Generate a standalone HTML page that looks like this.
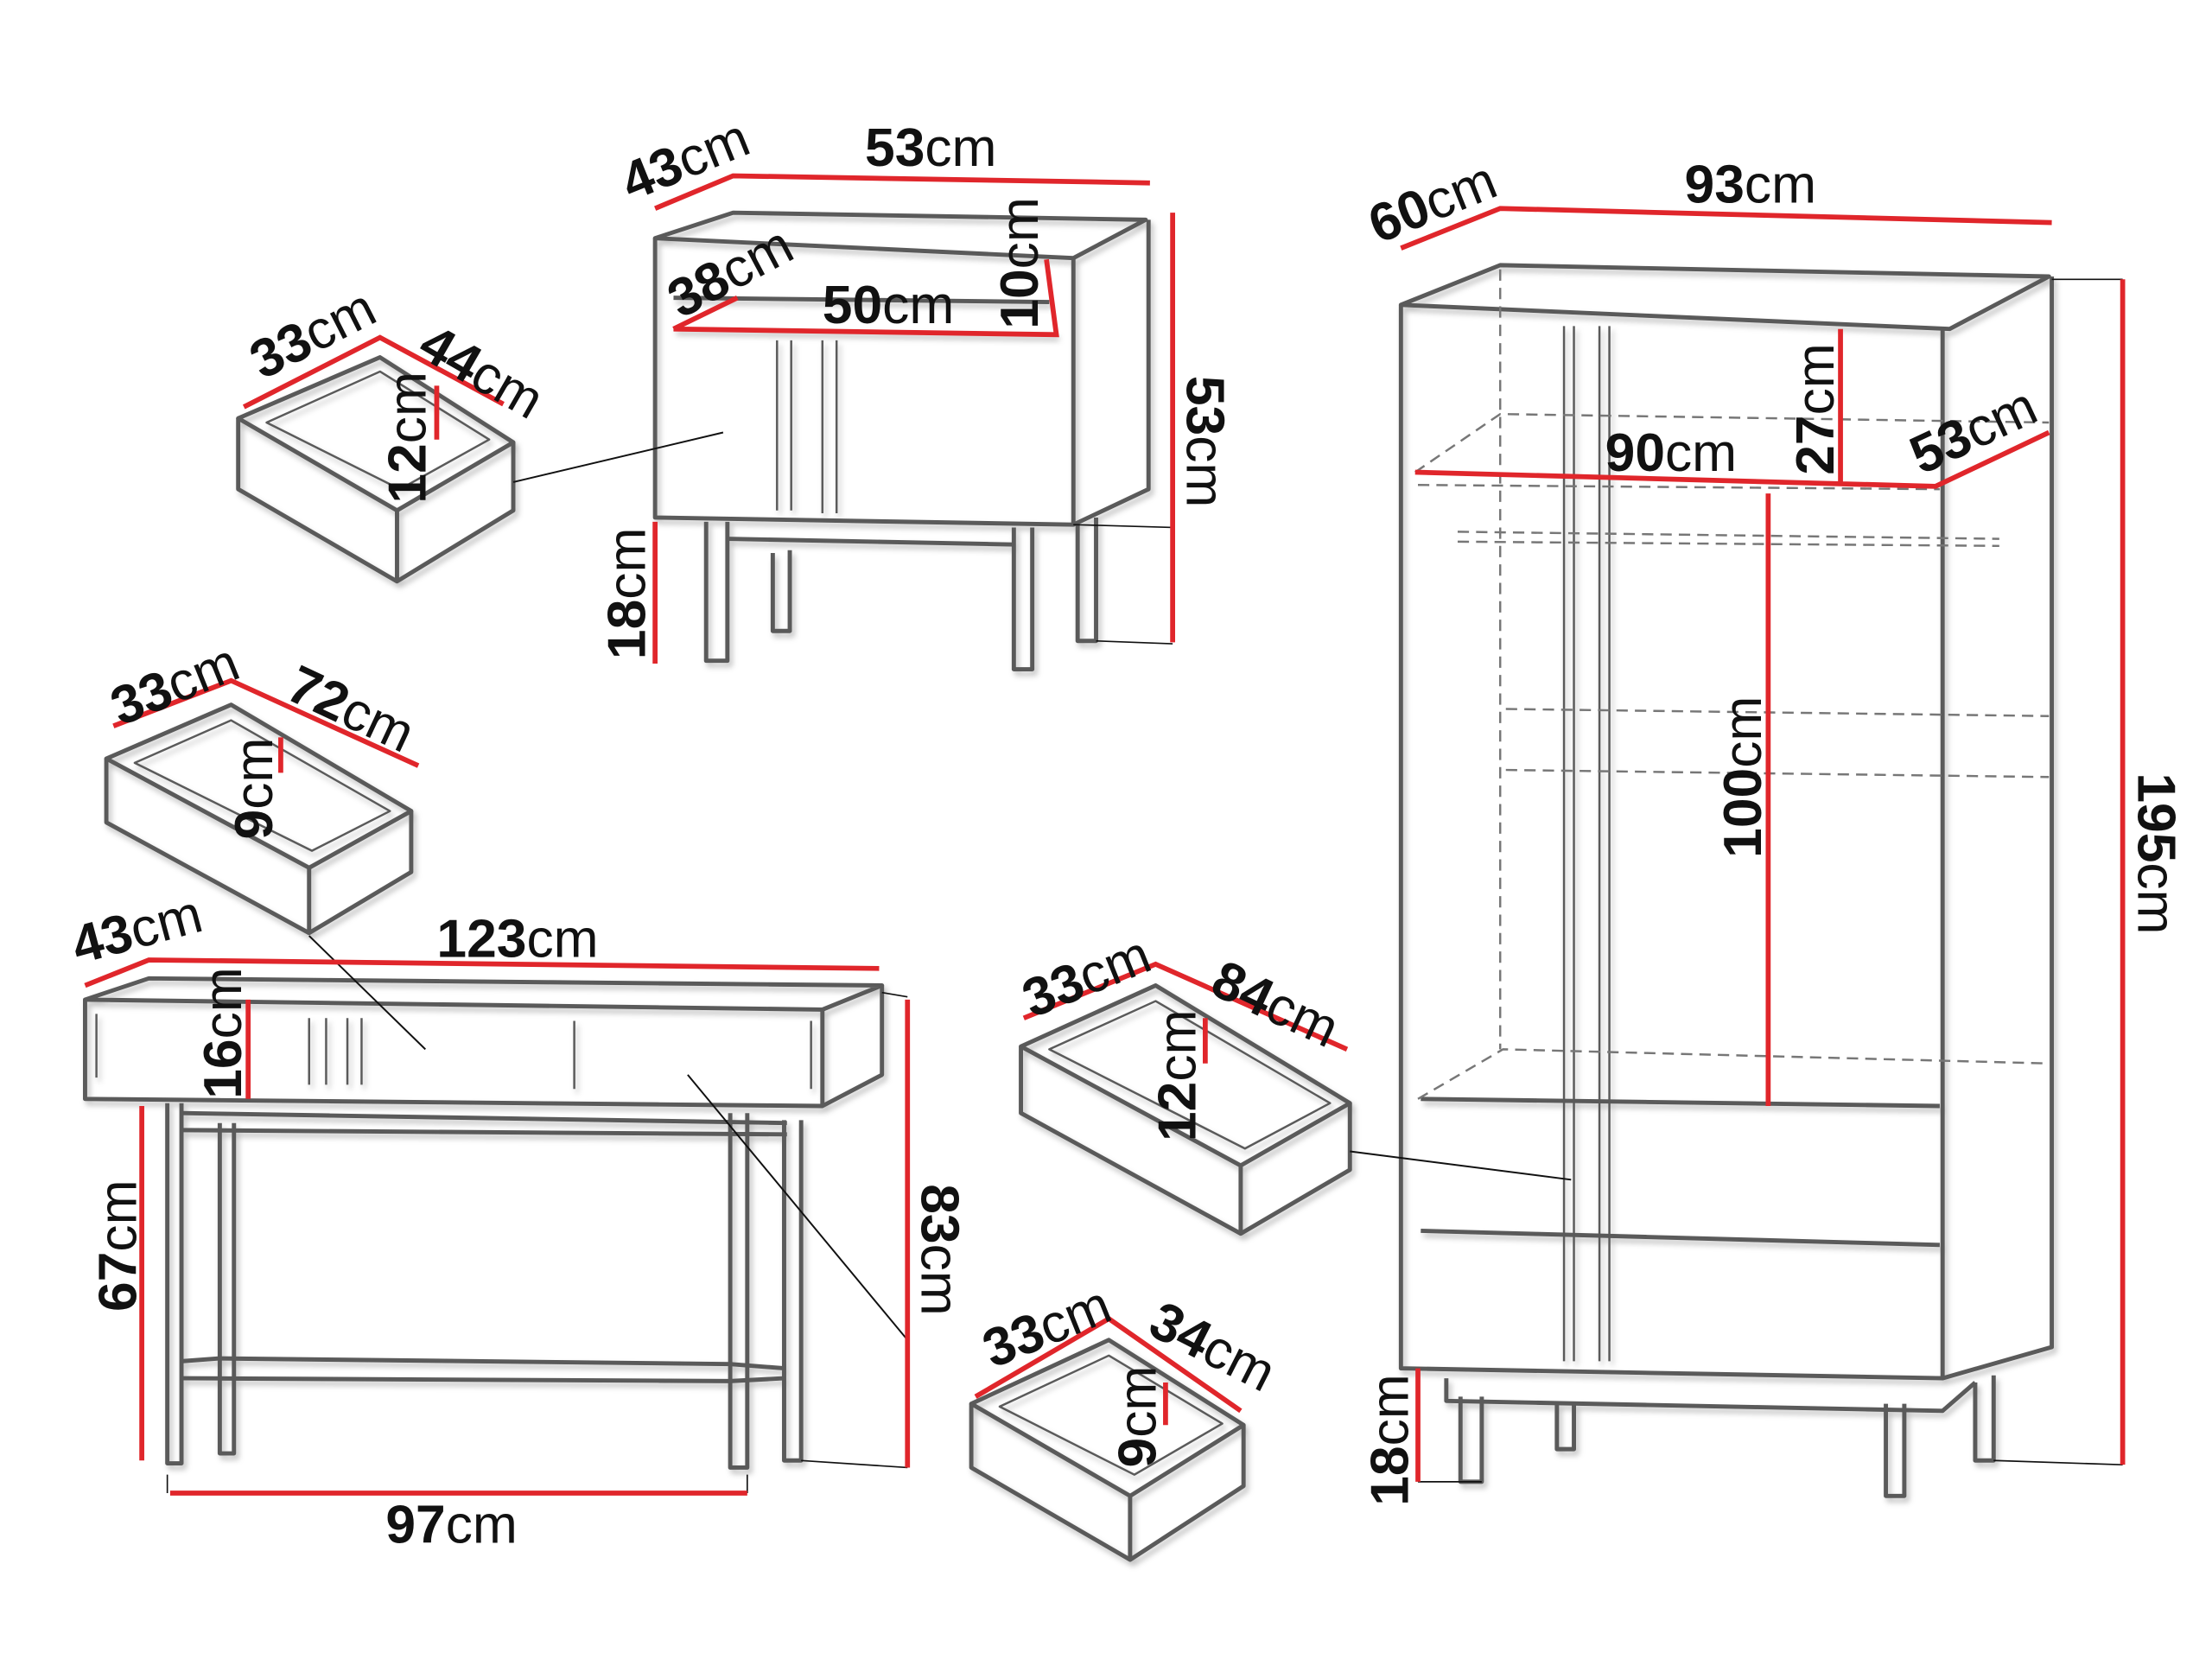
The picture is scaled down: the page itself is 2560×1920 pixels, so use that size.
<!DOCTYPE html>
<html><head><meta charset="utf-8"><style>
html,body{margin:0;padding:0;background:#fff;}
svg{display:block;}
text{font-family:"Liberation Sans",sans-serif;font-size:38px;fill:#111;}
.b{font-weight:bold;}
</style></head><body>
<svg width="2560" height="1920" viewBox="0 0 1560 1170" xmlns="http://www.w3.org/2000/svg">
<defs><filter id="sh" x="-5%" y="-5%" width="110%" height="110%"><feDropShadow dx="2" dy="3" stdDeviation="2" flood-color="#000" flood-opacity="0.25"/></filter></defs>
<g fill="none" stroke="#5a5a5a" stroke-width="3" stroke-linejoin="round" filter="url(#sh)">
<!-- nightstand -->
<path d="M462,168 L517,150 L808,155 L757,182 L462,168 Z"/>
<path d="M462,168 L462,365 L757,370 L757,182"/>
<path d="M757,370 L810,345 L810,155"/>
<path d="M475,232 L745,236 M475,210 L740,213"/>
<path d="M548,240 L548,360 M558,240 L558,360 M580,240 L580,362 M590,240 L590,362" stroke-width="1.5"/>
<path d="M498,368 L498,466 L513,466 L513,368 M715,372 L715,472 L728,472 L728,372 M545,390 L545,445 L557,445 L557,388 M760,370 L760,452 L773,452 L773,365"/>
<path d="M513,380 L715,384"/>
<!-- drawer 1 -->
<path d="M168,295 L280,360 L362,312 L268,252 L168,295 Z"/>
<path d="M168,295 L168,345 L280,410 L280,360 M280,410 L362,360 L362,312"/>
<path d="M188,298 L268,262 L345,310 L282,345 Z" stroke-width="1.5"/>
<!-- drawer 2 -->
<path d="M75,535 L218,612 L290,572 L163,497 L75,535 Z"/>
<path d="M75,535 L75,580 L218,658 L218,612 M218,658 L290,615 L290,572"/>
<path d="M95,538 L163,508 L275,572 L220,600 Z" stroke-width="1.5"/>
<!-- console -->
<path d="M60,705 L105,690 L622,695 L580,712 L60,705 Z"/>
<path d="M60,705 L60,775 L580,780 L580,712 M580,780 L622,758 L622,695"/>
<path d="M68,715 L68,760 M218,718 L218,765 M230,718 L230,765 M245,718 L245,765 M255,718 L255,765 M405,720 L405,768 M572,720 L572,768" stroke-width="1.5"/>
<path d="M128,785 L555,792 M128,797 L555,800"/>
<path d="M118,778 L118,1032 L128,1032 L128,778 M155,792 L155,1025 L165,1025 L165,792 M515,785 L515,1035 L527,1035 L527,785 M553,790 L553,1030 L565,1030 L565,790"/>
<path d="M128,960 L155,958 L515,962 L553,965 M128,972 L515,974 L553,972"/>
<!-- drawer 3 -->
<path d="M720,738 L875,822 L952,778 L815,695 L720,738 Z"/>
<path d="M720,738 L720,785 L875,870 L875,822 M875,870 L952,825 L952,778"/>
<path d="M740,740 L815,706 L938,778 L878,810 Z" stroke-width="1.5"/>
<!-- drawer 4 -->
<path d="M685,990 L797,1055 L877,1005 L782,945 L685,990 Z"/>
<path d="M685,990 L685,1035 L797,1100 L797,1055 M797,1100 L877,1048 L877,1005"/>
<path d="M705,992 L782,956 L862,1004 L800,1040 Z" stroke-width="1.5"/>
<!-- wardrobe -->
<path d="M988,215 L1058,187 L1445,195 L1375,232 L988,215 Z"/>
<path d="M988,215 L988,965 L1370,972 L1370,232 M1370,972 L1447,950 L1447,195"/>
<path d="M1002,775 L1368,780 M1002,868 L1368,878"/>
<path d="M1103,230 L1103,960 M1110,230 L1110,960 M1128,230 L1128,960 M1135,230 L1135,960" stroke-width="1.5"/>
<path d="M1020,972 L1020,988 L1370,995 L1393,975"/>
<path d="M1030,985 L1030,1045 L1045,1045 L1045,985 M1098,990 L1098,1022 L1110,1022 L1110,990 M1330,990 L1330,1055 L1343,1055 L1343,990 M1393,975 L1393,1030 L1406,1030 L1406,970"/>
</g>
<g fill="none" stroke="#777" stroke-width="1.5" stroke-dasharray="8,5">
<path d="M1058,190 L1058,740 M998,333 L1058,292 L1445,298 M1000,342 L1368,345 M1028,375 L1410,380 M1028,382 L1410,385 M1062,500 L1445,505 M1062,543 L1445,548 M1000,775 L1060,740 L1445,750"/>
</g>
<g stroke="#111" stroke-width="1.2">
<path d="M362,340 L510,305 M218,660 L300,740 M485,758 L640,945 M952,812 L1108,832"/>
<path d="M757,370 L827,372 M773,452 L827,454 M622,700 L640,703 M565,1030 L640,1035 M1447,197 L1497,197 M1406,1030 L1497,1033 M1045,1045 L1000,1045 M118,1040 L118,1053 M527,1040 L527,1053" stroke-width="1"/>
</g>
<g stroke="#e0262b" stroke-width="3.5" fill="none">
<path d="M462,147 L517,124 L811,129"/>
<path d="M475,232 L520,210 M475,232 L745,236 L738,183"/>
<path d="M827,150 L827,453 M462,368 L462,468"/>
<path d="M172,287 L268,238 L355,285 M308,272 L308,310"/>
<path d="M80,512 L163,480 L295,540 M198,520 L198,545"/>
<path d="M60,695 L105,677 L620,683 M175,705 L175,775 M100,780 L100,1030 M640,705 L640,1035 M120,1053 L527,1053"/>
<path d="M722,718 L815,680 L950,740 M850,718 L850,750"/>
<path d="M688,985 L782,930 L875,995 M822,975 L822,1005"/>
<path d="M988,175 L1058,147 L1447,157 M998,333 L1365,343 L1445,305 M1298,232 L1298,340 M1247,348 L1247,780 M1497,197 L1497,1033 M1000,965 L1000,1045"/>
</g>
<g>
<text transform="translate(445,142) rotate(-22)"><tspan class="b">43</tspan>cm</text>
<text x="610" y="117"><tspan class="b">53</tspan>cm</text>
<text transform="translate(480,225) rotate(-28)"><tspan class="b">38</tspan>cm</text>
<text x="580" y="228"><tspan class="b">50</tspan>cm</text>
<text transform="translate(732,232) rotate(-90)"><tspan class="b">10</tspan>cm</text>
<text transform="translate(837,265) rotate(90)"><tspan class="b">53</tspan>cm</text>
<text transform="translate(455,465) rotate(-90)"><tspan class="b">18</tspan>cm</text>
<text transform="translate(185,268) rotate(-27)"><tspan class="b">33</tspan>cm</text>
<text transform="translate(293,250) rotate(30)"><tspan class="b">44</tspan>cm</text>
<text transform="translate(300,355) rotate(-90)"><tspan class="b">12</tspan>cm</text>
<text transform="translate(85,512) rotate(-22)"><tspan class="b">33</tspan>cm</text>
<text transform="translate(200,492) rotate(25)"><tspan class="b">72</tspan>cm</text>
<text transform="translate(192,592) rotate(-90)"><tspan class="b">9</tspan>cm</text>
<text transform="translate(55,680) rotate(-15)"><tspan class="b">43</tspan>cm</text>
<text x="308" y="675"><tspan class="b">123</tspan>cm</text>
<text transform="translate(170,775) rotate(-90)"><tspan class="b">16</tspan>cm</text>
<text transform="translate(96,925) rotate(-90)"><tspan class="b">67</tspan>cm</text>
<text transform="translate(650,835) rotate(90)"><tspan class="b">83</tspan>cm</text>
<text x="272" y="1088"><tspan class="b">97</tspan>cm</text>
<text transform="translate(728,718) rotate(-22)"><tspan class="b">33</tspan>cm</text>
<text transform="translate(852,700) rotate(25)"><tspan class="b">84</tspan>cm</text>
<text transform="translate(843,805) rotate(-90)"><tspan class="b">12</tspan>cm</text>
<text transform="translate(700,965) rotate(-22)"><tspan class="b">33</tspan>cm</text>
<text transform="translate(808,940) rotate(27)"><tspan class="b">34</tspan>cm</text>
<text transform="translate(815,1035) rotate(-90)"><tspan class="b">9</tspan>cm</text>
<text transform="translate(972,172) rotate(-22)"><tspan class="b">60</tspan>cm</text>
<text x="1188" y="143"><tspan class="b">93</tspan>cm</text>
<text x="1132" y="332"><tspan class="b">90</tspan>cm</text>
<text transform="translate(1293,335) rotate(-90)"><tspan class="b">27</tspan>cm</text>
<text transform="translate(1355,335) rotate(-25)"><tspan class="b">53</tspan>cm</text>
<text transform="translate(1242,605) rotate(-90)"><tspan class="b">100</tspan>cm</text>
<text transform="translate(1508,545) rotate(90)"><tspan class="b">195</tspan>cm</text>
<text transform="translate(993,1062) rotate(-90)"><tspan class="b">18</tspan>cm</text>
</g>
</svg>
</body></html>
